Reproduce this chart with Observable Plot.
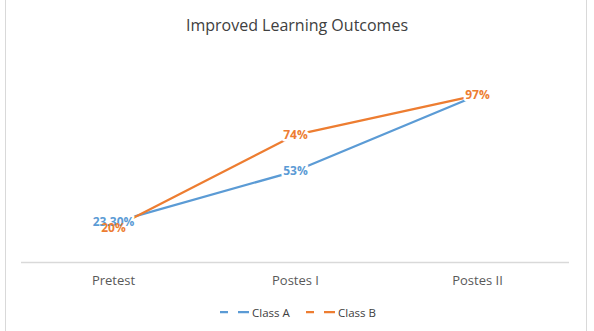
<!DOCTYPE html>
<html>
<head>
<meta charset="utf-8">
<script src="https://cdn.jsdelivr.net/npm/d3@7"></script>
<script src="https://cdn.jsdelivr.net/npm/@observablehq/plot@0.6"></script>
<style>
  html, body { margin: 0; padding: 0; background: #fff; }
  #frame {
    position: relative; width: 594px; height: 331px; box-sizing: border-box;
    font-family: "Open Sans", sans-serif; overflow: hidden;
  }
  #frame::before {
    content: ""; position: absolute; left: 5px; right: 7px; top: -2px; bottom: -2px;
    border: 1px solid #d9d9d9;
  }
  #title {
    position: absolute; top: 14px; left: 0; width: 594px; text-align: center;
    font-size: 16px; color: #404040;
  }
  #chart { position: absolute; top: 0; left: 0; }
  #legend {
    position: absolute; top: 302px; left: 0; width: 594px; height: 20px;
    font-size: 11.5px; color: #404040;
  }
  .item { position: absolute; top: 0; display: flex; align-items: center; height: 20px; }
  .item svg { margin-right: 2px; }
</style>
</head>
<body>
<div id="frame">
  <div id="title">Improved Learning Outcomes</div>
  <div id="chart"></div>
  <div id="legend"></div>
</div>
<script>
// Learning outcome scores per test stage (share of students passing)
const stages = ["Pretest", "Postes I", "Postes II"];
const classA = [0.233, 0.53, 0.97];
const classB = [0.20, 0.74, 0.97];
const labelsA = ["23.30%", "53%", "97%"];
const labelsB = ["20%", "74%", "97%"];
const seriesNames = ["Class A", "Class B"];
const seriesColors = ["#5B9BD5", "#ED7D31"];

const rows = [
  ...stages.map((s, i) => ({stage: s, value: classA[i], label: labelsA[i], series: seriesNames[0]})),
  ...stages.map((s, i) => ({stage: s, value: classB[i], label: labelsB[i], series: seriesNames[1]}))
];
// Class A's final label sits under Class B's in the drawing order
const labelRows = rows.filter(d => !(d.series === "Class A" && d.stage === "Postes II"));

const color = {domain: seriesNames, range: seriesColors};

const chart = Plot.plot({
  width: 594,
  height: 300,
  marginLeft: 21,
  marginRight: 25,
  marginTop: 55,
  marginBottom: 38,
  style: {fontFamily: "Open Sans, sans-serif", background: "transparent"},
  x: {type: "point", domain: stages, padding: 0.5, label: null},
  y: {domain: [0, 1.2], axis: null},
  color,
  marks: [
    Plot.ruleY([0], {stroke: "#d9d9d9", strokeWidth: 1.5}),
    Plot.line(rows, {
      x: "stage", y: "value", z: "series", stroke: "series",
      strokeWidth: 2.25, curve: "linear"
    }),
    // white backing behind every value label, drawn before any label text
    Plot.text(labelRows, {
      x: "stage", y: "value", text: "label", fill: "white",
      stroke: "white", strokeWidth: 5, fontWeight: "bold", fontSize: 12
    }),
    Plot.text(labelRows, {
      x: "stage", y: "value", text: "label", fill: "series",
      fontWeight: "bold", fontSize: 12
    }),
    Plot.axisX({tickSize: 0, tickPadding: 13, fontSize: 13, color: "#595959", label: null})
  ]
});
document.getElementById("chart").appendChild(chart);

// Legend: short dashed swatch followed by series name
const legend = document.getElementById("legend");
const legendX = [219, 305];
seriesNames.forEach((name, i) => {
  const item = document.createElement("div");
  item.className = "item";
  item.style.left = legendX[i] + "px";
  item.innerHTML =
    `<svg width="31" height="20"><line x1="1" y1="10" x2="30" y2="10" stroke="${seriesColors[i]}" stroke-width="2.25" stroke-dasharray="8,10,12"/></svg><span>${name}</span>`;
  legend.appendChild(item);
});
</script>
</body>
</html>
